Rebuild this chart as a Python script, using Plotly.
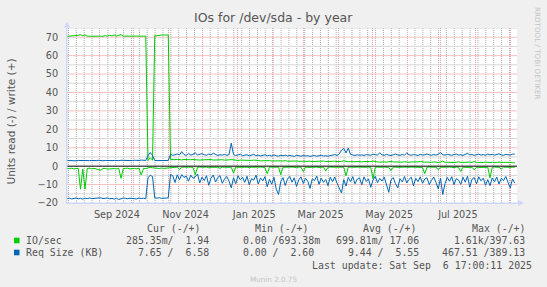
import pandas as pd
import plotly.graph_objects as go

# ---------------- data ----------------
start = "2024-08-02 17:00"
end = "2025-09-06 17:00"
dates = pd.date_range(start, periods=200, freq="2D")

io_write = [
    70.5, 70.6, 70.5, 70.6, 70.5, 71.0, 71.4, 70.8, 71.3, 70.6,
    70.5, 70.6, 70.5, 70.6, 70.5, 70.6, 70.5, 70.9, 70.6, 71.1,
    70.7, 71.2, 70.6, 70.9, 71.4, 70.6, 70.6, 70.5, 70.6, 70.6,
    70.5, 70.6, 70.6, 70.5, 70.6, 70.6, 3.0, 4.6, 3.2, 70.8,
    70.8, 71.2, 71.2, 71.2, 71.3, 71.2, 3.6, 3.4, 3.5, 3.7,
    3.5, 3.4, 3.6, 3.5, 3.3, 3.5, 3.6, 3.4, 3.5, 3.3,
    3.4, 3.5, 3.3, 3.4, 3.6, 3.3, 3.4, 3.2, 3.3, 3.5,
    3.3, 3.2, 3.4, 3.6, 3.3, 3.2, 3.1, 3.3, 3.2, 3.1,
    3.2, 3.0, 3.1, 3.3, 3.0, 3.1, 2.9, 3.0, 3.2, 2.9,
    3.0, 2.8, 2.9, 3.1, 2.8, 2.9, 2.8, 3.0, 2.7, 2.8,
    2.9, 2.7, 2.8, 2.6, 2.8, 2.7, 2.6, 2.8, 2.7, 2.5,
    2.6, 2.7, 2.5, 2.6, 2.8, 2.5, 2.6, 2.4, 2.5, 2.7,
    2.5, 2.4, 2.6, 2.9, 2.5, 2.4, 2.5, 2.3, 2.4, 2.6,
    2.4, 2.3, 2.5, 2.4, 2.3, 2.5, 2.8, 2.4, 2.3, 2.2,
    2.4, 2.3, 2.2, 2.4, 2.6, 2.3, 2.2, 2.3, 2.1, 2.2,
    2.4, 2.2, 2.1, 2.3, 2.2, 2.1, 2.3, 2.6, 2.2, 2.1,
    2.2, 2.0, 2.1, 2.3, 2.1, 2.0, 2.2, 2.7, 2.1, 2.0,
    2.1, 2.2, 2.0, 2.1, 2.4, 2.0, 2.1, 1.9, 2.0, 2.2,
    2.0, 2.6, 2.0, 1.9, 2.1, 2.0, 2.2, 1.9, 2.0, 2.1,
    1.9, 2.0, 2.2, 1.9, 2.0, 2.1, 1.9, 2.0, 1.9, 1.9,
]

io_read = [
    -1.2, -1.4, -1.1, -1.5, -1.3, -1.2, -12.5, -1.6, -12.4, -1.3,
    -1.1, -1.4, -1.2, -1.5, -1.8, -2.2, -1.3, -1.2, -1.6, -1.4,
    -1.1, -1.3, -1.5, -1.2, -6.6, -1.4, -1.2, -1.1, -1.5, -1.3,
    -1.2, -1.4, -1.1, -4.8, -1.2, -1.3, -0.8, -0.6, -0.9, -1.2,
    -1.1, -1.3, -1.0, -1.2, -1.1, -0.9, -0.8, -0.6, -0.7, -0.5,
    -1.8, -0.6, -0.5, -0.7, -0.6, -0.5, -0.8, -4.6, -0.6, -0.5,
    -0.7, -0.6, -0.5, -0.9, -0.6, -0.5, -0.7, -0.6, -1.2, -0.5,
    -0.6, -0.5, -0.7, -0.6, -3.8, -0.5, -0.6, -0.7, -0.5, -0.6,
    -0.5, -0.8, -0.6, -0.5, -0.7, -0.6, -0.5, -0.6, -0.8, -4.1,
    -0.6, -0.5, -0.7, -0.6, -0.5, -4.6, -0.6, -0.5, -0.7, -0.6,
    -0.5, -0.6, -0.8, -0.5, -0.6, -2.9, -0.5, -0.7, -0.6, -0.5,
    -0.6, -0.5, -0.7, -0.6, -0.5, -2.6, -0.6, -0.5, -0.7, -0.6,
    -0.5, -0.6, -0.8, -0.6, -5.2, -0.6, -0.5, -0.7, -0.6, -0.5,
    -0.6, -0.5, -0.7, -0.6, -0.5, -0.8, -6.8, -0.6, -0.5, -0.7,
    -0.6, -0.5, -0.6, -0.7, -2.4, -0.5, -0.6, -0.7, -0.5, -0.6,
    -0.5, -0.7, -0.6, -0.5, -0.6, -0.8, -0.5, -0.6, -0.7, -4.1,
    -0.6, -0.5, -0.7, -0.6, -0.5, -1.9, -0.6, -0.5, -0.7, -0.6,
    -0.5, -0.6, -0.8, -0.5, -0.6, -2.9, -0.5, -0.7, -0.6, -0.5,
    -0.6, -2.0, -0.5, -0.7, -0.6, -0.5, -0.8, -0.6, -6.4, -0.6,
    -0.5, -0.7, -0.6, -1.6, -0.5, -0.6, -0.7, -0.5, -0.6, -0.6,
]

req_write = [
    3.1, 3.0, 3.2, 3.0, 2.9, 3.1, 3.0, 3.2, 3.1, 2.9,
    3.0, 3.1, 2.9, 3.0, 3.2, 3.0, 2.9, 3.1, 3.0, 2.8,
    3.0, 3.1, 2.9, 3.0, 3.2, 3.1, 3.0, 2.9, 3.1, 3.0,
    3.2, 3.0, 3.1, 3.3, 3.0, 3.1, 5.6, 7.4, 5.8, 3.1,
    3.0, 3.1, 3.0, 3.2, 3.0, 3.1, 6.4, 5.9, 6.2, 6.6,
    6.1, 7.9, 6.3, 5.8, 6.9, 6.0, 6.4, 7.2, 6.1, 6.5,
    6.8, 6.2, 5.9, 6.6, 6.1, 7.0, 6.3, 5.8, 6.2, 6.0,
    6.4, 5.9, 6.2, 12.5, 6.3, 5.8, 6.1, 6.5, 5.7, 6.0,
    6.2, 5.6, 5.9, 6.4, 5.7, 6.0, 5.5, 5.8, 6.2, 5.6,
    5.9, 5.5, 6.1, 5.7, 5.4, 5.9, 5.6, 6.0, 5.5, 5.8,
    5.6, 5.3, 5.9, 5.6, 5.4, 5.8, 5.5, 5.7, 5.3, 5.6,
    5.8, 5.4, 5.6, 5.9, 5.5, 5.7, 5.4, 5.6, 5.9, 6.3,
    5.8, 6.6, 8.7, 9.6, 7.2, 9.8, 6.4, 6.0, 5.8, 6.2,
    5.9, 6.1, 5.8, 6.3, 6.0, 5.9, 6.5, 6.2, 6.0, 7.3,
    6.1, 5.9, 6.4, 6.0, 5.8, 6.2, 6.6, 6.1, 5.9, 6.3,
    6.0, 7.2, 6.2, 5.9, 6.3, 6.1, 5.8, 6.4, 6.0, 6.2,
    6.6, 6.1, 5.9, 6.3, 6.0, 6.5, 7.4, 6.2, 6.0, 6.4,
    6.1, 5.9, 6.3, 6.6, 6.0, 6.2, 5.8, 6.4, 7.0, 6.1,
    6.3, 5.9, 6.2, 6.5, 6.0, 6.3, 5.9, 6.6, 6.1, 6.4,
    6.0, 6.3, 6.7, 6.1, 5.9, 6.4, 6.2, 6.0, 6.6, 6.5,
]

req_read = [
    -17.6, -17.4, -17.8, -17.5, -17.3, -17.7, -17.5, -17.9, -17.4, -17.6,
    -17.3, -17.6, -17.5, -17.8, -17.4, -17.2, -17.6, -17.5, -17.3, -17.7,
    -17.5, -17.9, -17.4, -18.1, -17.6, -17.3, -17.5, -17.7, -17.4, -17.6,
    -17.5, -17.8, -17.3, -17.6, -17.4, -17.7, -6.2, -5.0, -5.6, -17.2,
    -17.4, -17.1, -17.5, -17.3, -17.4, -17.2, -4.5, -5.2, -8.9, -4.7,
    -7.3, -4.6, -6.1, -5.4, -8.2, -4.9, -6.6, -5.8, -4.3, -9.1,
    -6.0, -7.8, -5.2, -10.4, -6.5, -4.8, -8.6, -6.2, -5.1, -9.3,
    -7.0, -5.6, -8.1, -11.8, -6.3, -9.5, -5.2, -7.4, -6.0, -8.8,
    -5.5, -10.2, -6.8, -7.6, -4.9, -9.7, -6.4, -8.0, -5.7, -11.2,
    -7.1, -9.8, -6.0, -12.6, -15.3, -8.4, -6.2, -10.5, -7.0, -5.6,
    -8.7, -6.3, -11.0, -7.5, -5.8, -9.4, -6.6, -8.2, -12.1, -6.9,
    -7.8, -5.4, -9.9, -6.5, -8.8, -7.2, -10.6, -6.0, -8.4, -5.9,
    -9.2, -12.4, -14.6, -7.3, -10.8, -6.1, -8.5, -5.7, -9.6, -7.0,
    -6.4, -10.1, -5.8, -8.3, -6.9, -11.5, -7.6, -5.5, -9.0, -6.7,
    -8.1, -5.9, -10.3, -14.2, -7.4, -6.2, -9.5, -11.8, -6.8, -8.6,
    -5.6, -9.1, -7.2, -6.0, -10.7, -6.6, -8.4, -5.8, -9.3, -7.0,
    -6.3, -10.0, -7.7, -5.9, -8.9, -12.3, -6.5, -15.4, -9.4, -6.1,
    -8.2, -5.7, -10.1, -6.8, -7.5, -9.9, -6.0, -8.7, -5.5, -11.4,
    -7.1, -6.2, -9.6, -5.8, -8.0, -6.5, -10.4, -7.3, -10.6, -6.4,
    -8.5, -5.9, -9.7, -6.6, -7.9, -5.6, -8.8, -11.8, -6.9, -9.2,
]

tick_labels = ["Sep 2024", "Nov 2024", "Jan 2025", "Mar 2025", "May 2025", "Jul 2025"]
month_grid = pd.date_range("2024-09-01", "2025-09-01", freq="MS")
week_grid = pd.date_range("2024-08-04", end, freq="7D").difference(month_grid)
month_text = [d.strftime("%b %Y") if d.strftime("%b %Y") in tick_labels else "" for d in month_grid]
y_range = [-20, 75]
y_major_grid = [-10, 10, 20, 30, 40, 50, 60, 70]
y_minor_grid = [-15, -5, 5, 15, 25, 35, 45, 55, 65, 75]

series_names = ["IO/sec", "Req Size (KB)"]
series_colors = ["#00CC00", "#0066B3"]
legend_headers = ["Cur (-/+)", "Min (-/+)", "Avg (-/+)", "Max (-/+)"]
legend_rows = [
    ["285.35m/  1.94 ", "  0.00 /693.38m", "699.81m/ 17.06 ", "  1.61k/397.63 "],
    ["  7.65 /  6.58 ", "  0.00 /  2.60 ", "  9.44 /  5.55 ", "467.51 /389.13 "],
]
last_update = "Last update: Sat Sep  6 17:00:11 2025"

# ---------------- geometry ----------------
W, H = 547, 287
L, R, T, B = 67, 517, 28, 203


def fx(px):
    return (px - L) / (R - L)


def fy(py):
    return (B - py) / (B - T)


FONT = "DejaVu Sans"
MONO = "DejaVu Sans Mono"
TXT = "#555555"
GRID = "#ABABAB"
MGRID = "#EFA3A3"
HGRID = "#D6D6D6"    # horizontal minor grid (solid, tone of a 1-on/1-off dotted line)
HMGRID = "#F4C0C0"   # horizontal major grid
AXIS = "#CFD6F8"
VDASH = "1px,1px"

fig = go.Figure()
for name, ys, col in [
    ("IO/sec read", io_read, series_colors[0]),
    ("IO/sec write", io_write, series_colors[0]),
    ("Req read", req_read, series_colors[1]),
    ("Req write", req_write, series_colors[1]),
]:
    fig.add_trace(go.Scatter(x=dates, y=ys, mode="lines", name=name,
                             line=dict(color=col, width=1), showlegend=False,
                             hoverinfo="skip"))

fig.update_layout(
    width=W, height=H,
    margin=dict(l=L, r=W - R, t=T, b=H - B, pad=0),
    paper_bgcolor="#F0F0F0", plot_bgcolor="#FFFFFF",
    showlegend=False,
    xaxis=dict(
        range=[start, end], type="date",
        tickmode="array", tickvals=list(month_grid), ticktext=month_text,
        ticklabelshift=17, ticklabelstandoff=2,
        tickfont=dict(family=FONT, size=9.7, color=TXT),
        ticks="", showgrid=True, gridcolor=MGRID, griddash=VDASH, gridwidth=1,
        showline=True, linecolor=AXIS, linewidth=1, zeroline=False,
    ),
    yaxis=dict(
        range=y_range, tickmode="linear", tick0=0, dtick=10,
        showgrid=False,
        ticks="", ticklabelstandoff=6,
        tickfont=dict(family=FONT, size=9.7, color=TXT),
        showline=True, linecolor=AXIS, linewidth=1, zeroline=False,
    ),
)

# grid lines
for d in week_grid:
    fig.add_shape(type="line", xref="x", yref="y", x0=d, x1=d, y0=y_range[0], y1=y_range[1],
                  line=dict(color=GRID, width=1, dash=VDASH), layer="below")
for v in y_minor_grid:
    fig.add_shape(type="line", xref="x", yref="y", x0=start, x1=end, y0=v, y1=v,
                  line=dict(color=HGRID, width=1), layer="below")
for v in y_major_grid:
    fig.add_shape(type="line", xref="x", yref="y", x0=start, x1=end, y0=v, y1=v,
                  line=dict(color=HMGRID, width=1), layer="below")

# zero rule
fig.add_shape(type="line", xref="x", yref="y", x0=start, x1=end, y0=0, y1=0,
              line=dict(color="#000000", width=1), layer="above")

# axis arrows
fig.add_shape(type="line", xref="paper", yref="paper", x0=fx(L), x1=fx(L),
              y0=fy(B), y1=fy(23), line=dict(color=AXIS, width=1))
fig.add_shape(type="path", xref="paper", yref="paper",
              path=f"M {fx(L - 3)} {fy(27.5)} L {fx(L + 3)} {fy(27.5)} L {fx(L)} {fy(21.5)} Z",
              fillcolor=AXIS, line=dict(color=AXIS, width=0))
fig.add_shape(type="line", xref="paper", yref="paper", x0=fx(L), x1=fx(519),
              y0=fy(B), y1=fy(B), line=dict(color=AXIS, width=1))
fig.add_shape(type="path", xref="paper", yref="paper",
              path=f"M {fx(518)} {fy(B - 3)} L {fx(518)} {fy(B + 3)} L {fx(524)} {fy(B)} Z",
              fillcolor=AXIS, line=dict(color=AXIS, width=0))

ann = []


def text(px, py, s, size, family=FONT, color=TXT, xanchor="left", angle=0):
    ann.append(dict(xref="paper", yref="paper", x=fx(px), y=fy(py), text=s,
                    showarrow=False, xanchor=xanchor, yanchor="middle",
                    textangle=angle, borderpad=0,
                    font=dict(family=family, size=size, color=color)))


def nb(s):
    return s.replace(" ", "\u00a0")


# title
text(273.5, 18, "IOs for /dev/sda - by year", 12.5, xanchor="center")
# y title
text(10.5, 122, "Units read (-) / write (+)", 10.5, xanchor="center", angle=-90)
# watermark
text(537.5, 53.5, "RRDTOOL / TOBI OETIKER", 7.2, color="#C4C4C4", xanchor="center", angle=90)
text(273.5, 279, "Munin 2.0.75", 7.2, color="#C4C4C4", xanchor="center")

# legend
block_right = [215.5, 320.8, 426.0, 532.0]
header_right = [201.5, 309.5, 417.5, 526.5]
row_y = [240.5, 252.5]
for h, xr in zip(legend_headers, header_right):
    text(xr, 228.3, nb(h), 9.9, family=MONO, xanchor="right")
for r, (name, col, row) in enumerate(zip(series_names, series_colors, legend_rows)):
    yy = row_y[r]
    fig.add_shape(type="rect", xref="paper", yref="paper",
                  x0=fx(14), x1=fx(19.5), y0=fy(yy - 2.8), y1=fy(yy + 2.8),
                  fillcolor=col, line=dict(width=0))
    text(25, yy, nb(name), 9.9, family=MONO)
    for s, xr in zip(row, block_right):
        text(xr, yy, nb(s), 9.9, family=MONO, xanchor="right")
text(532.5, 265, nb(last_update), 9.9, family=MONO, xanchor="right")

fig.update_layout(annotations=ann)
fig.write_html("out.html")
